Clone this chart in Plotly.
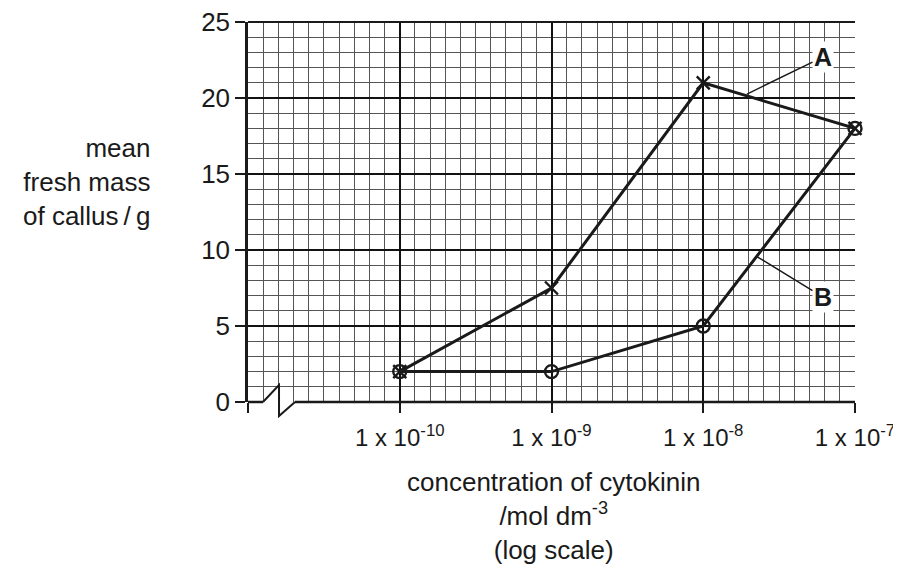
import numpy as np
import plotly.graph_objects as go

concentrations = [1e-10, 1e-9, 1e-8, 1e-7]
series_A = [2, 7.5, 21, 18]
series_B = [2, 2, 5, 18]
x_tick_vals = [-11, -10, -9, -8, -7]
x_tick_text = ["", "1 x 10<sup>-10</sup>", "1 x 10<sup>-9</sup>", "1 x 10<sup>-8</sup>", "1 x 10<sup>-7</sup>"]
y_tick_vals = [0, 5, 10, 15, 20, 25]

logx = np.log10(concentrations)
FONT = "Liberation Sans, Arial, Helvetica, sans-serif"
INK = "#1a1a1a"

fig = go.Figure()
fig.add_trace(go.Scatter(x=logx, y=series_A, mode="lines+markers",
                         line=dict(color=INK, width=3),
                         marker=dict(symbol="x-thin", size=13, line=dict(color=INK, width=2.4)),
                         showlegend=False, cliponaxis=False))
fig.add_trace(go.Scatter(x=logx, y=series_B, mode="lines+markers",
                         line=dict(color=INK, width=3),
                         marker=dict(symbol="circle-open", size=13, line=dict(color=INK, width=2.4)),
                         showlegend=False, cliponaxis=False))

fig.update_layout(
    width=893, height=558,
    margin=dict(l=240, r=46, t=14, b=164, autoexpand=False),
    paper_bgcolor="white", plot_bgcolor="white",
    font=dict(family=FONT, size=26, color=INK),
    xaxis=dict(range=[-11, -7], tickmode="array", tickvals=x_tick_vals, ticktext=x_tick_text,
               ticks="outside", ticklen=10, tickwidth=2, tickcolor=INK, ticklabelstandoff=4,
               showgrid=True, gridcolor="#111", gridwidth=2,
               minor=dict(dtick=0.1, showgrid=True, gridcolor="#555", gridwidth=1.1, ticks=""),
               zeroline=False, showline=False, tickfont=dict(size=24),
               automargin=False, ticklabeloverflow="allow"),
    yaxis=dict(range=[0, 25], tickvals=y_tick_vals,
               ticks="outside", ticklen=10, tickwidth=2, tickcolor=INK,
               showgrid=True, gridcolor="#111", gridwidth=2,
               minor=dict(dtick=1, showgrid=True, gridcolor="#555", gridwidth=1.1, ticks=""),
               zeroline=False, showline=True, linecolor=INK, linewidth=2.5,
               tickfont=dict(size=26), automargin=False, ticklabeloverflow="allow"),
)

# broken x-axis line with break symbol (paper coordinates, so it is not clipped)
xb1, xpk, xb2 = 0.0247, 0.0511, 0.0774
fig.add_shape(type="line", xref="paper", yref="paper", x0=0, y0=0, x1=xb1, y1=0, line=dict(color=INK, width=2.5))
fig.add_shape(type="line", xref="paper", yref="paper", x0=xb2, y0=0, x1=1, y1=0, line=dict(color=INK, width=2.5))
fig.add_shape(type="path", xref="paper", yref="paper",
              path=f"M {xb1} 0 L {xpk} 0.0447 L {xpk} -0.0368 L {xb2} 0",
              line=dict(color=INK, width=2))
# top border
fig.add_shape(type="line", xref="paper", yref="paper", x0=0, y0=1, x1=1, y1=1, line=dict(color=INK, width=2))

# labels A and B with leader lines
fig.add_annotation(x=-7.712, y=20.26, ax=-7.211, ay=22.7, axref="x", ayref="y", xref="x", yref="y",
                   text="<b>A</b>", showarrow=True, arrowhead=0, arrowwidth=1.5, arrowcolor=INK,
                   font=dict(size=25, color=INK), bgcolor="white")
fig.add_annotation(x=-7.652, y=9.6, ax=-7.211, ay=6.9, axref="x", ayref="y", xref="x", yref="y",
                   text="<b>B</b>", showarrow=True, arrowhead=0, arrowwidth=1.5, arrowcolor=INK,
                   font=dict(size=25, color=INK), bgcolor="white")

# axis titles
fig.add_annotation(xref="paper", yref="paper", x=-0.158, y=0.579, xanchor="right", yanchor="middle",
                   align="right", showarrow=False,
                   text="mean<br>fresh mass<br>of callus\u2009/\u2009g", font=dict(size=26, color=INK))
fig.add_annotation(xref="paper", yref="paper", x=0.504, y=-0.300, xanchor="center", yanchor="middle",
                   align="center", showarrow=False,
                   text="concentration of cytokinin<br>/mol dm<sup>-3</sup><br>(log scale)",
                   font=dict(size=26, color=INK))

fig.write_html("out.html")
